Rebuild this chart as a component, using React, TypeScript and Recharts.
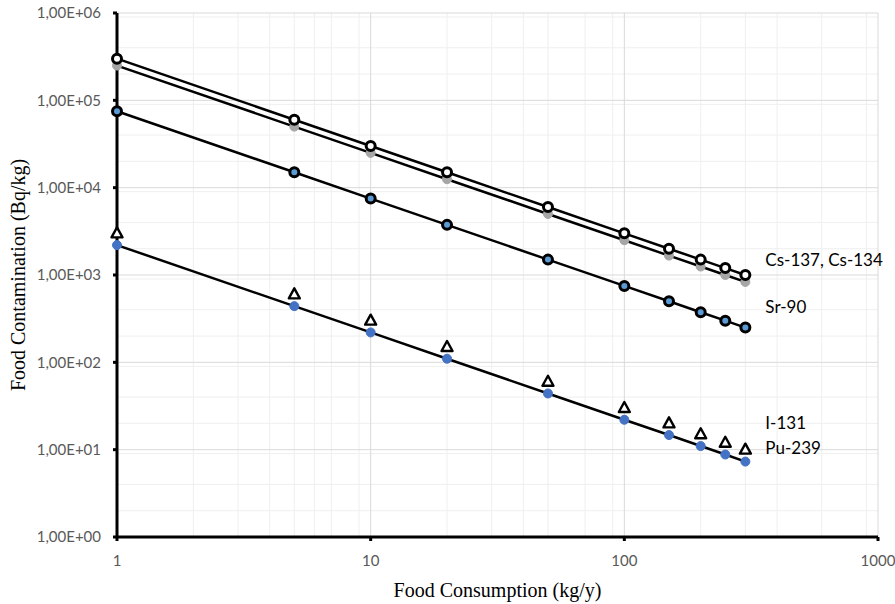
import React from "react";
import {
  CartesianGrid,
  ComposedChart,
  Label,
  LabelList,
  Line,
  XAxis,
  YAxis,
} from "recharts";

// food consumption (kg/y)
const consumption = [1, 5, 10, 20, 50, 100, 150, 200, 250, 300];
// food contamination limits (Bq/kg)
const cs137 = [300000, 60000, 30000, 15000, 6000, 3000, 2000, 1500, 1200, 1000];
const cs134 = [250000, 50000, 25000, 12500, 5000, 2500, 1667, 1250, 1000, 833];
const sr90 = [75000, 15000, 7500, 3750, 1500, 750, 500, 375, 300, 250];
const i131 = [3000, 600, 300, 150, 60, 30, 20, 15, 12, 10];
const pu239 = [2200, 440, 220, 110, 44, 22, 14.7, 11, 8.8, 7.3];

const xTicks = [1, 10, 100, 1000];
const yTicks = [1, 10, 100, 1000, 10000, 100000, 1000000];
const xMinor = [2, 3, 4, 5, 6, 7, 8, 9, 20, 30, 40, 50, 60, 70, 80, 90, 200, 300, 400, 500, 600, 700, 800, 900];
const yMinor = [
  2, 3, 4, 5, 6, 7, 8, 9,
  20, 30, 40, 50, 60, 70, 80, 90,
  200, 300, 400, 500, 600, 700, 800, 900,
  2000, 3000, 4000, 5000, 6000, 7000, 8000, 9000,
  20000, 30000, 40000, 50000, 60000, 70000, 80000, 90000,
  200000, 300000, 400000, 500000, 600000, 700000, 800000, 900000,
];

const rows = consumption.map((c, i) => ({
  x: c,
  cs137: cs137[i],
  cs134: cs134[i],
  sr90: sr90[i],
  i131: i131[i],
  pu239: pu239[i],
}));

const last = consumption.length - 1;

const sciFmt = (v: number) =>
  "1,00E+" + String(Math.round(Math.log10(v))).padStart(2, "0");

const endLabel = (text: string, dy: number) => (props: any) => {
  if (props.index !== last) return null;
  return (
    <text
      x={props.x + 20}
      y={props.y + dy}
      fontFamily="Lato, sans-serif"
      fontSize={17}
      fill="#000"
      dominantBaseline="middle"
    >
      {text}
    </text>
  );
};

const circle = (fill: string, stroke: string, r: number, sw: number) => (p: any) => (
  <circle key={p.index} cx={p.cx} cy={p.cy} r={r} fill={fill} stroke={stroke} strokeWidth={sw} />
);

const triangle = (p: any) => (
  <path
    key={p.index}
    d={`M${p.cx},${p.cy - 6} L${p.cx + 5.5},${p.cy + 4} L${p.cx - 5.5},${p.cy + 4} Z`}
    fill="#fff"
    stroke="#000"
    strokeWidth={2.4}
    strokeLinejoin="round"
  />
);

const tickStyle = { fontFamily: "Lato, sans-serif", fontSize: 15, fill: "#595959" };

export default function App() {
  return (
    <div style={{ position: "fixed", left: 0, top: 0, background: "#fff" }}>
      <ComposedChart
        width={895}
        height={604}
        data={rows}
        margin={{ top: 13, right: 17, bottom: 7, left: 8 }}
      >
        <CartesianGrid
          stroke="#efefef"
          strokeWidth={1}
          verticalValues={xMinor}
          horizontalValues={yMinor}
        />
        <CartesianGrid
          stroke="#d9d9d9"
          strokeWidth={1}
          verticalValues={xTicks}
          horizontalValues={yTicks}
        />
        <XAxis
          dataKey="x"
          type="number"
          scale="log"
          domain={[1, 1000]}
          ticks={xTicks}
          height={60}
          axisLine={{ stroke: "#000", strokeWidth: 3 }}
          tickLine={{ stroke: "#000", strokeWidth: 3 }}
          tickSize={4}
          tick={tickStyle}
          tickMargin={14}
        >
          <Label
            value="Food Consumption (kg/y)"
            position="insideBottom"
            offset={0}
            style={{ fontFamily: "'Liberation Serif', serif", fontSize: 20, fill: "#000" }}
          />
        </XAxis>
        <YAxis
          type="number"
          scale="log"
          domain={[1, 1000000]}
          ticks={yTicks}
          width={109}
          tickFormatter={sciFmt}
          axisLine={{ stroke: "#000", strokeWidth: 3 }}
          tickLine={{ stroke: "#000", strokeWidth: 3 }}
          tickSize={4}
          tick={tickStyle}
          tickMargin={12}
        >
          <Label
            value="Food Contamination (Bq/kg)"
            angle={-90}
            position="insideLeft"
            offset={10}
            style={{ fontFamily: "'Liberation Serif', serif", fontSize: 20, fill: "#000", textAnchor: "middle" }}
          />
        </YAxis>
        <Line
          dataKey="cs134"
          stroke="#000"
          strokeWidth={2.5}
          dot={circle("#a6a6a6", "#a6a6a6", 4.5, 1)}
          isAnimationActive={false}
        />
        <Line
          dataKey="cs137"
          stroke="#000"
          strokeWidth={2.5}
          dot={circle("#fff", "#000", 4.5, 3)}
          isAnimationActive={false}
        >
          <LabelList dataKey="cs137" content={endLabel("Cs-137, Cs-134", -13)} />
        </Line>
        <Line
          dataKey="sr90"
          stroke="#000"
          strokeWidth={2.5}
          dot={circle("#5b9bd5", "#000", 4.5, 3)}
          isAnimationActive={false}
        >
          <LabelList dataKey="sr90" content={endLabel("Sr-90", -19)} />
        </Line>
        <Line
          dataKey="pu239"
          stroke="#000"
          strokeWidth={2.5}
          dot={circle("#4472c4", "#4472c4", 4.5, 1)}
          isAnimationActive={false}
        >
          <LabelList dataKey="pu239" content={endLabel("Pu-239", -12)} />
        </Line>
        <Line
          dataKey="i131"
          stroke="none"
          dot={triangle}
          isAnimationActive={false}
        >
          <LabelList dataKey="i131" content={endLabel("I-131", -25)} />
        </Line>
      </ComposedChart>
    </div>
  );
}
